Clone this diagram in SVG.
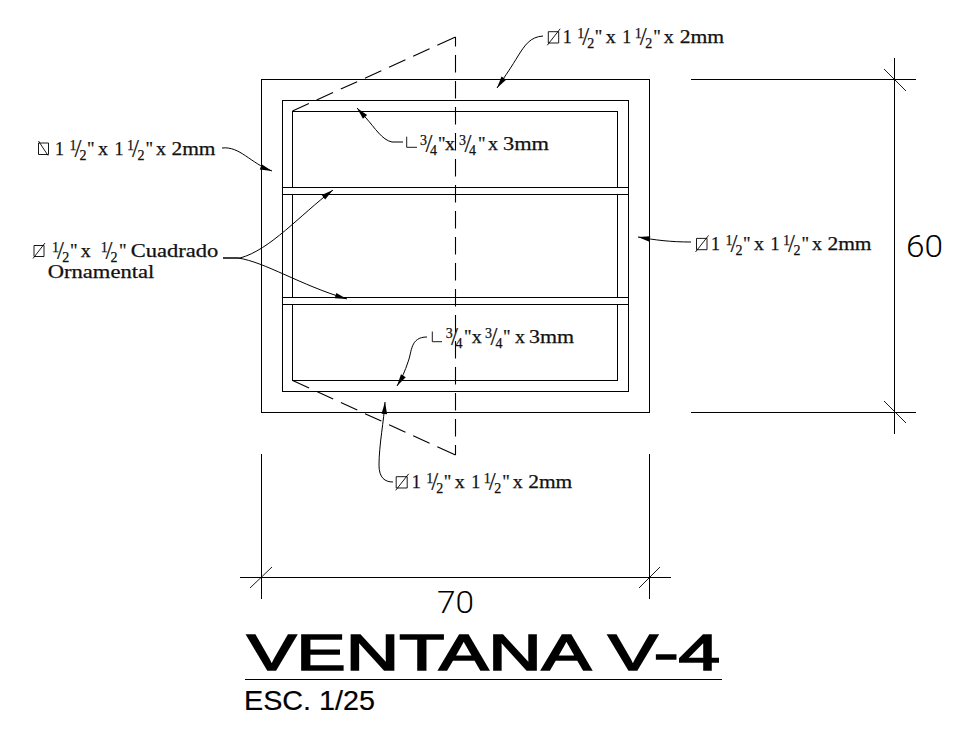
<svg xmlns="http://www.w3.org/2000/svg" width="970" height="735" viewBox="0 0 970 735">
<style>
.l{fill:none;stroke:#000;stroke-width:1.1;shape-rendering:crispEdges}
.t{fill:none;stroke:#000;stroke-width:.9}
.d{fill:none;stroke:#000;stroke-width:1.1;stroke-dasharray:17.5 8.5}
.g{fill:none;stroke:#000;stroke-width:1.1;stroke-dasharray:20 8.5 18 8.5 18 8.5 18 8.5 18 8.5 18 8.5 18}
.ld{fill:none;stroke:#000;stroke-width:1;marker-end:url(#a)}
text{font-family:"Liberation Serif","Times New Roman",serif;font-size:18.5px;fill:#111;stroke:#111;stroke-width:.25}
.n{font-size:14px}
.s{font-size:25px;stroke-width:.15}
.dim{font-family:Roboto,"Liberation Sans",sans-serif;font-weight:300;font-size:31px;fill:#000;stroke:none}
.ttl{font-family:"Liberation Sans",Arial,sans-serif;font-size:49.5px;fill:#000;stroke:#000;stroke-width:1.6}
.esc{font-family:"Liberation Sans",Arial,sans-serif;font-size:27px;fill:#000;stroke:#000;stroke-width:.2}
</style>
<defs>
<marker id="a" markerUnits="userSpaceOnUse" markerWidth="16" markerHeight="8" refX="15" refY="4" orient="auto">
<path d="M3,1.2 L15,4 L3,6.8 Z" fill="#000"/>
</marker>
</defs>
<rect width="970" height="735" fill="#fff"/>
<g id="ventana">
<rect class="l" x="261.5" y="79.5" width="388" height="333"/>
<rect class="l" x="282.5" y="100.5" width="346" height="291"/>
<path class="l" d="M292.5,187.5V111.5H617.5V187.5M292.5,194.5V297.5M617.5,194.5V297.5M292.5,304.5V380.5H617.5V304.5"/>
<path class="l" d="M282.5,187.5H628.5M282.5,194.5H628.5M282.5,297.5H628.5M282.5,304.5H628.5"/>
</g>
<g id="corte">
<path class="d" style="stroke-dashoffset:8" d="M455.5,37V455"/>
<path class="g" d="M455.5,37L292.5,111"/>
<path class="g" d="M455.5,455L292.5,380.5"/>
</g>
<g id="conectores">
<path class="ld" d="M543,36C530,37 525,45 518,56C512,66 506,75 497,88"/>
<path class="ld" d="M403,142L392,142C382,140 375,128 366,118L357,108"/>
<path class="ld" d="M222,148C240,146 250,163 272,171"/>
<path class="ld" d="M223,258L240,258C270,250 300,215 333,190"/>
<path class="ld" d="M223,258L238,258C265,262 300,285 347,299"/>
<path class="ld" d="M691,242C670,242 655,240 638,237"/>
<path class="ld" d="M427,337C410,337 412,352 408,362C405,371 402,378 397,386"/>
<path class="ld" d="M393,482C385,482 379,478 379,465C379,445 384,420 385,402"/>
</g>
<g id="cotas">
<path class="l" d="M261.5,454V599M649.5,454V599M240,577.5H671"/>
<path class="t" d="M250,588L272,567M639,588L660,567"/>
<path class="l" d="M691,79.5H916M691,412.5H916M894.5,58V434"/>
<path class="t" d="M884,69L906,91M884,401L906,423"/>
<text class="dim" x="437" y="613" textLength="37" lengthAdjust="spacingAndGlyphs">70</text>
<text class="dim" x="906" y="257" textLength="37" lengthAdjust="spacingAndGlyphs">60</text>
</g>
<g id="etiqueta-superior" transform="translate(562.7,43.3)">
<path class="t" d="M-14.4,-11.6H-4V-.3H-14.4ZM-15.5,2L-2.5,-14.5"/>
<text><tspan x="0" textLength="9" lengthAdjust="spacingAndGlyphs">1</tspan> <tspan class="n" x="14.5" y="-5">1</tspan><tspan class="s" x="19.5" y="2">/</tspan><tspan class="n" x="24.5" y="5">2</tspan><tspan x="32" y="0">"</tspan> <tspan x="43" textLength="10" lengthAdjust="spacingAndGlyphs">x</tspan> <tspan x="59.5" textLength="9" lengthAdjust="spacingAndGlyphs">1</tspan> <tspan class="n" x="72" y="-5">1</tspan><tspan class="s" x="77" y="2">/</tspan><tspan class="n" x="82.5" y="5">2</tspan><tspan x="90.5" y="0">"</tspan> <tspan x="101" textLength="10" lengthAdjust="spacingAndGlyphs">x</tspan> <tspan x="117" textLength="44.5" lengthAdjust="spacingAndGlyphs">2mm</tspan></text>
</g>
<g id="etiqueta-derecha" transform="translate(711,250)">
<path class="t" d="M-14.5,-11.6H-4V-.3H-14.5ZM-15.5,2L-2.5,-14.5"/>
<text><tspan x="0" textLength="9" lengthAdjust="spacingAndGlyphs">1</tspan> <tspan class="n" x="14.5" y="-5">1</tspan><tspan class="s" x="19.5" y="2">/</tspan><tspan class="n" x="24.5" y="5">2</tspan><tspan x="32" y="0">"</tspan> <tspan x="43" textLength="10" lengthAdjust="spacingAndGlyphs">x</tspan> <tspan x="59.5" textLength="9" lengthAdjust="spacingAndGlyphs">1</tspan> <tspan class="n" x="72" y="-5">1</tspan><tspan class="s" x="77" y="2">/</tspan><tspan class="n" x="82.5" y="5">2</tspan><tspan x="90.5" y="0">"</tspan> <tspan x="101" textLength="10" lengthAdjust="spacingAndGlyphs">x</tspan> <tspan x="116.5" textLength="44" lengthAdjust="spacingAndGlyphs">2mm</tspan></text>
</g>
<g id="etiqueta-izquierda" transform="translate(55,155)">
<path class="t" d="M-16.5,-12H-6.5V-.5H-16.5ZM-16.5,-14L-7,.5"/>
<text><tspan x="0" textLength="9" lengthAdjust="spacingAndGlyphs">1</tspan> <tspan class="n" x="14.5" y="-5">1</tspan><tspan class="s" x="19.5" y="2">/</tspan><tspan class="n" x="24.5" y="5">2</tspan><tspan x="32" y="0">"</tspan> <tspan x="43" textLength="10" lengthAdjust="spacingAndGlyphs">x</tspan> <tspan x="59.5" textLength="9" lengthAdjust="spacingAndGlyphs">1</tspan> <tspan class="n" x="72" y="-5">1</tspan><tspan class="s" x="77" y="2">/</tspan><tspan class="n" x="82.5" y="5">2</tspan><tspan x="90.5" y="0">"</tspan> <tspan x="101" textLength="10" lengthAdjust="spacingAndGlyphs">x</tspan> <tspan x="116.5" textLength="44" lengthAdjust="spacingAndGlyphs">2mm</tspan></text>
</g>
<g id="etiqueta-inferior" transform="translate(411.7,488.3)">
<path class="t" d="M-15.5,-11.6H-4.5V-.3H-15.5ZM-16,2L-3,-14.5"/>
<text><tspan x="0" textLength="9" lengthAdjust="spacingAndGlyphs">1</tspan> <tspan class="n" x="14.5" y="-5">1</tspan><tspan class="s" x="19.5" y="2">/</tspan><tspan class="n" x="24.5" y="5">2</tspan><tspan x="32" y="0">"</tspan> <tspan x="43" textLength="10" lengthAdjust="spacingAndGlyphs">x</tspan> <tspan x="59.5" textLength="9" lengthAdjust="spacingAndGlyphs">1</tspan> <tspan class="n" x="72" y="-5">1</tspan><tspan class="s" x="77" y="2">/</tspan><tspan class="n" x="82.5" y="5">2</tspan><tspan x="90.5" y="0">"</tspan> <tspan x="101" textLength="10" lengthAdjust="spacingAndGlyphs">x</tspan> <tspan x="116.5" textLength="44" lengthAdjust="spacingAndGlyphs">2mm</tspan></text>
</g>
<g id="etiqueta-angulo-superior">
<path class="t" d="M406.7,136.7V147.3H417"/>
<text y="150"><tspan class="n" x="420" y="145">3</tspan><tspan class="s" x="425.5" y="152">/</tspan><tspan class="n" x="430" y="155">4</tspan><tspan x="438" y="150">"</tspan><tspan x="445" textLength="10" lengthAdjust="spacingAndGlyphs">x</tspan><tspan class="n" x="459" y="145">3</tspan><tspan class="s" x="464.5" y="152">/</tspan><tspan class="n" x="469" y="155">4</tspan><tspan x="478" y="150">"</tspan> <tspan x="488" textLength="10" lengthAdjust="spacingAndGlyphs">x</tspan> <tspan x="503" textLength="46" lengthAdjust="spacingAndGlyphs">3mm</tspan></text>
</g>
<g id="etiqueta-angulo-inferior">
<path class="t" d="M432.3,331.5V341.7H442"/>
<text y="343.3"><tspan class="n" x="445.7" y="338.3">3</tspan><tspan class="s" x="451" y="345.3">/</tspan><tspan class="n" x="455.5" y="348.3">4</tspan><tspan x="464" y="343.3">"</tspan><tspan x="471.7" textLength="10" lengthAdjust="spacingAndGlyphs">x</tspan> <tspan class="n" x="485" y="338.3">3</tspan><tspan class="s" x="490.5" y="345.3">/</tspan><tspan class="n" x="495.5" y="348.3">4</tspan><tspan x="503" y="343.3">"</tspan> <tspan x="515" textLength="10" lengthAdjust="spacingAndGlyphs">x</tspan> <tspan x="529" textLength="45" lengthAdjust="spacingAndGlyphs">3mm</tspan></text>
</g>
<g id="etiqueta-ornamental">
<path class="t" d="M34,245.5H44V256.5H34ZM33,258.5L45,243"/>
<text><tspan class="n" x="52" y="251.7">1</tspan><tspan class="s" x="57" y="258.7">/</tspan><tspan class="n" x="62.2" y="261.7">2</tspan><tspan x="70" y="256.7">"</tspan> <tspan x="80.7" textLength="10" lengthAdjust="spacingAndGlyphs">x</tspan> <tspan class="n" x="100.7" y="251.7">1</tspan><tspan class="s" x="105.5" y="258.7">/</tspan><tspan class="n" x="110.5" y="261.7">2</tspan><tspan x="119" y="256.7">"</tspan> <tspan x="130.7" textLength="87.5" lengthAdjust="spacingAndGlyphs">Cuadrado</tspan></text>
<text x="47.7" y="277.7" textLength="106.6" lengthAdjust="spacingAndGlyphs">Ornamental</text>
</g>
<g id="titulo">
<text class="ttl" y="669.5"><tspan x="247" textLength="340" lengthAdjust="spacingAndGlyphs">VENTANA</tspan> <tspan x="608" textLength="112" lengthAdjust="spacingAndGlyphs">V-4</tspan></text>
<path class="l" d="M245,679.5H722"/>
<text class="esc" x="244" y="710" textLength="131" lengthAdjust="spacingAndGlyphs">ESC. 1/25</text>
</g>
</svg>
